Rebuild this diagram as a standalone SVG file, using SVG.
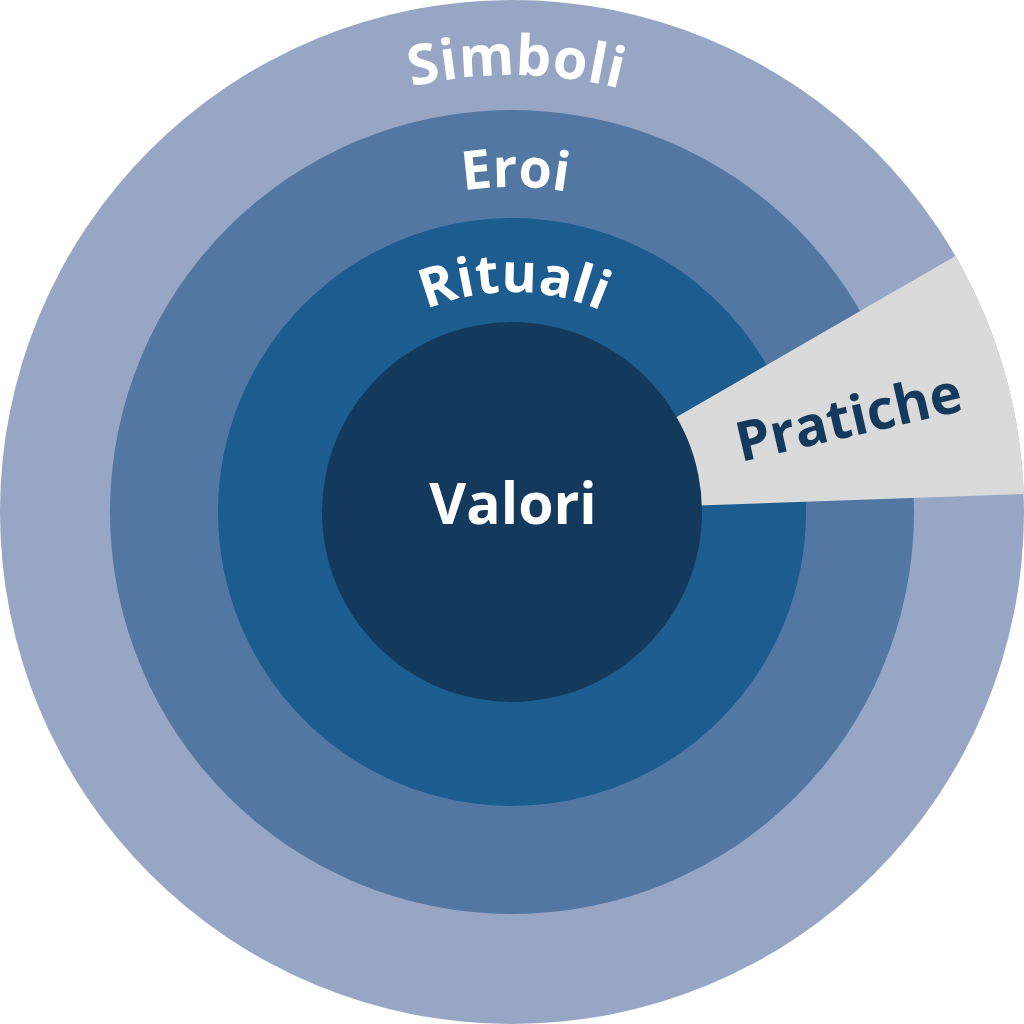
<svg xmlns="http://www.w3.org/2000/svg" xmlns:xlink="http://www.w3.org/1999/xlink" width="1024" height="1024" viewBox="0 0 1024 1024">
<style>
.lbl{font-family:"Open Sans","Liberation Sans",sans-serif;font-weight:700;fill:#ffffff}
.dark{fill:#133a5c}
</style>
<defs>
<path id="arcSimboli" d="M75,512 A437,437 0 0,1 949,512"/>
<path id="arcEroi" d="M187,512 A325,325 0 0,1 837,512"/>
<path id="arcRituali" d="M292,512 A220,220 0 0,1 732,512"/>
</defs>
<rect width="1024" height="1024" fill="#ffffff"/>
<g id="simboli">
<circle cx="512" cy="512" r="512" fill="#97a6c4"/>
</g>
<g id="eroi">
<circle cx="512" cy="512" r="402" fill="#5277a3"/>
</g>
<g id="rituali">
<circle cx="512" cy="512" r="294" fill="#1d5c8e"/>
</g>
<g id="pratiche">
<path d="M512,512 L955.4,256 A512,512 0 0,1 1023.7,494.1 Z" fill="#dadada"/>
</g>
<g id="valori">
<circle cx="512" cy="512" r="190" fill="#133a5c"/>
<text class="lbl" x="513" y="524" font-size="57" text-anchor="middle">Valori</text>
</g>
<g id="labels">
<text class="lbl" font-size="56" letter-spacing="0.5"><textPath xlink:href="#arcSimboli" href="#arcSimboli" startOffset="50.3%" text-anchor="middle">Simboli</textPath></text>
<text class="lbl" font-size="54"><textPath xlink:href="#arcEroi" href="#arcEroi" startOffset="50.3%" text-anchor="middle">Eroi</textPath></text>
<text class="lbl" font-size="54" letter-spacing="0.5"><textPath xlink:href="#arcRituali" href="#arcRituali" startOffset="50.3%" text-anchor="middle">Rituali</textPath></text>
<text class="lbl dark" x="853" y="436" font-size="55" text-anchor="middle" transform="rotate(-13 853 436)">Pratiche</text>
</g>
<g id="connectors"></g>
</svg>
